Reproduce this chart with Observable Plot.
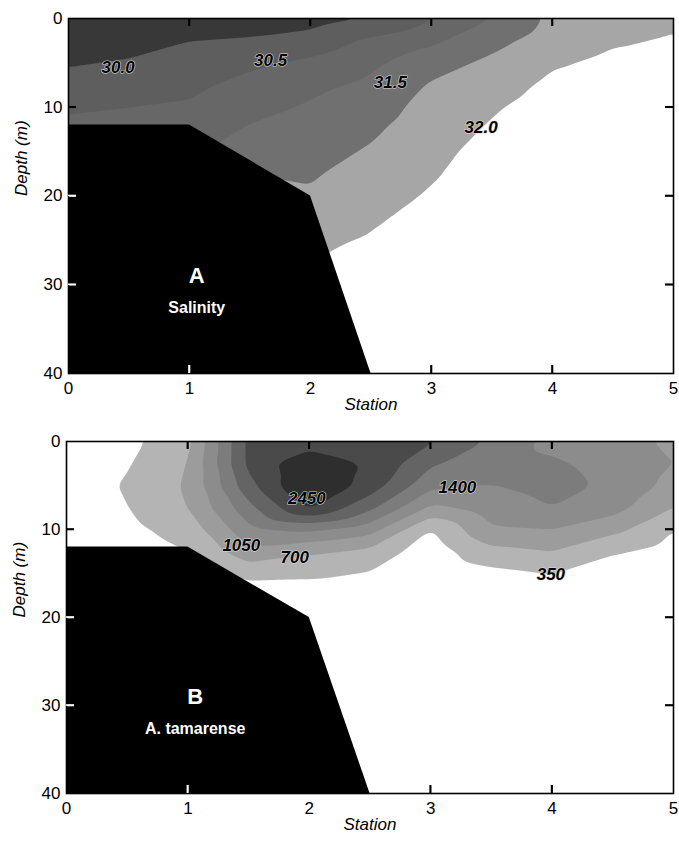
<!DOCTYPE html>
<html><head><meta charset="utf-8">
<script src="https://cdn.jsdelivr.net/npm/d3@7"></script>
<script src="https://cdn.jsdelivr.net/npm/@observablehq/plot@0.6"></script>
<style>
body{margin:0;background:#fff;font-family:"Liberation Sans",Arial,sans-serif}
#chart svg{display:block}
</style>
</head><body><div id="chart"></div>
<script>
// Grid of sample positions
const stations = [0, 0.5, 1, 1.5, 2, 2.5, 3, 3.5, 4, 4.5, 5];
const depths = [0, 2.5, 5, 7.5, 10, 12.5, 15, 17.5, 20, 25, 30, 40];

// Panel A: salinity (rows = depths, columns = stations)
const salinity = [
  [29.6, 29.6, 29.7, 29.75, 29.8, 29.97, 30.45, 31.0, 31.6, 31.75, 31.9],
  [29.75, 29.8, 30.0, 30.05, 30.2, 30.6, 30.9, 31.35, 31.75, 31.95, 32.05],
  [29.95, 30.05, 30.2, 30.4, 30.6, 30.9, 31.3, 31.6, 31.95, 32.1, 32.15],
  [30.2, 30.3, 30.4, 30.65, 30.9, 31.1, 31.55, 31.8, 32.1, 32.2, 32.25],
  [30.45, 30.5, 30.55, 30.85, 31.05, 31.25, 31.7, 31.95, 32.2, 32.3, 32.3],
  [30.6, 30.65, 30.75, 31.05, 31.2, 31.42, 31.8, 32.05, 32.3, 32.35, 32.4],
  [30.7, 30.75, 30.9, 31.3, 31.33, 31.55, 31.88, 32.15, 32.35, 32.4, 32.45],
  [30.8, 30.85, 31.0, 31.5, 31.45, 31.7, 31.95, 32.25, 32.4, 32.45, 32.5],
  [30.9, 30.95, 31.1, 31.6, 31.55, 31.8, 32.05, 32.3, 32.45, 32.5, 32.55],
  [31.0, 31.05, 31.2, 31.7, 31.9, 32.05, 32.25, 32.4, 32.5, 32.55, 32.6],
  [31.1, 31.15, 31.3, 31.8, 32.1, 32.3, 32.4, 32.5, 32.6, 32.65, 32.7],
  [31.2, 31.25, 31.4, 31.9, 32.2, 32.6, 32.7, 32.7, 32.8, 32.8, 32.85]
];
const salinityLevels = [29, 30, 30.5, 31, 31.5, 32];
const salinityGrays = ["#383838", "#5e5e5e", "#676767", "#707070", "#a6a6a6", "#ffffff"];
const salinityLabelText = ["30.0", "30.5", "31.5", "32.0"];
const salinityLabelStation = [0.41, 1.67, 2.66, 3.41];
const salinityLabelDepth = [5.5, 4.7, 7.2, 12.3];

// Panel B: A. tamarense cells (rows = depths, columns = stations)
const cells = [
  [100, 250, 600, 2200, 2200, 2300, 2150, 1700, 1300, 1150, 1000],
  [150, 320, 700, 2200, 2800, 2400, 1800, 1550, 1450, 1300, 1050],
  [200, 380, 750, 2000, 2900, 2300, 1500, 1400, 1500, 1350, 950],
  [180, 340, 700, 1650, 2500, 1850, 1000, 1250, 1400, 1200, 700],
  [150, 250, 500, 1300, 1450, 1200, 330, 1000, 1050, 800, 350],
  [100, 150, 350, 950, 750, 600, 150, 600, 700, 380, 200],
  [60, 80, 200, 450, 420, 320, 80, 250, 350, 180, 100],
  [40, 50, 100, 150, 150, 120, 50, 100, 150, 80, 50],
  [30, 30, 50, 80, 60, 50, 30, 50, 60, 40, 30],
  [20, 20, 30, 40, 30, 30, 20, 30, 30, 20, 20],
  [10, 10, 20, 20, 20, 20, 10, 20, 20, 10, 10],
  [0, 0, 0, 0, 0, 0, 0, 0, 0, 0, 0]
];
const cellLevels = [350, 700, 1050, 1400, 1750, 2100, 2450];
const cellGrays = ["#b4b4b4", "#9c9c9c", "#8c8c8c", "#7c7c7c", "#646464", "#4a4a4a", "#2e2e2e"];
const cellLabelText = ["1050", "700", "2450", "1400", "350"];
const cellLabelStation = [1.44, 1.88, 1.98, 3.22, 3.99];
const cellLabelDepth = [11.8, 13.2, 6.5, 5.2, 15.1];

// Sea floor
const bottomStation = [0, 1, 2, 2.5];
const bottomDepth = [12, 12, 20, 40];

// Axes
const stationTicks = [0, 1, 2, 3, 4, 5];
const depthTicks = [0, 10, 20, 30, 40];
const innerStationTicksDark = [3, 4];
const innerStationTicksLight = [1];
const topStationTicks = [1, 2, 3, 4];
const innerDepthTicksDark = [10];
const innerDepthTicksLight = [20, 30];
const rightDepthTicks = [10, 20, 30];

const TICK = 8;

function panel({values, levels, grays, labelText, labelStation, labelDepth, letter, name,
                height, marginTop, marginBottom, marginLeft, marginRight}) {
  const grid = [];
  depths.forEach((d, i) => stations.forEach((s, j) => grid.push({station: s, depth: d, value: values[i][j]})));
  const bottom = bottomStation.map((s, i) => ({station: s, depth: bottomDepth[i]}));
  const minStation = stationTicks[0], maxStation = stationTicks[stationTicks.length - 1];
  const minDepth = depthTicks[0], maxDepth = depthTicks[depthTicks.length - 1];
  const labels = labelText.map((t, i) => ({text: t, station: labelStation[i], depth: labelDepth[i]}));
  const svg = Plot.plot({
    width: 679, height, marginTop, marginBottom, marginLeft, marginRight,
    style: {fontFamily: "'Liberation Sans', Arial, sans-serif", fontSize: "17px", background: "white"},
    x: {domain: [minStation, maxStation], label: null},
    y: {domain: [minDepth, maxDepth], reverse: true, label: null},
    color: {type: "threshold", domain: levels.slice(1), range: grays},
    marks: [
      Plot.contour(grid, {x: "station", y: "depth", fill: "value", interpolate: "barycentric",
                          thresholds: levels, stroke: "none", pixelSize: 1, blur: 4}),
      Plot.areaY(bottom, {x: "station", y1: "depth", y2: () => maxDepth, fill: "black"}),
      Plot.axisX({ticks: stationTicks, tickSize: 0, tickPadding: 8, tickFormat: d3.format("d"), label: null, fontSize: 17}),
      Plot.axisY({ticks: depthTicks, tickSize: 0, tickPadding: 6, tickFormat: d3.format("d"), label: null, fontSize: 17}),
      Plot.ruleX(innerStationTicksDark, {x: d => d, y1: () => maxDepth, y2: () => maxDepth, insetTop: -TICK, stroke: "#000", strokeWidth: 1.6}),
      Plot.ruleX(innerStationTicksLight, {x: d => d, y1: () => maxDepth, y2: () => maxDepth, insetTop: -TICK, stroke: "#fff", strokeWidth: 1.6}),
      Plot.ruleX(topStationTicks, {x: d => d, y1: () => minDepth, y2: () => minDepth, insetBottom: -TICK, stroke: "#000", strokeWidth: 1.6}),
      Plot.ruleY(innerDepthTicksDark, {y: d => d, x1: () => minStation, x2: () => minStation, insetRight: -TICK, stroke: "#000", strokeWidth: 1.6}),
      Plot.ruleY(innerDepthTicksLight, {y: d => d, x1: () => minStation, x2: () => minStation, insetRight: -TICK, stroke: "#fff", strokeWidth: 1.6}),
      Plot.ruleY(rightDepthTicks, {y: d => d, x1: () => maxStation, x2: () => maxStation, insetLeft: -TICK, stroke: "#000", strokeWidth: 1.6}),
      Plot.text(labels, {x: "station", y: "depth", text: "text", fontWeight: "bold", fontStyle: "italic",
                         fontSize: 17, fill: "black", stroke: "#dcdcdc", strokeWidth: 1.2}),
      Plot.text([letter], {x: bottomStation[1] + 0.06, y: 29, text: d => d, fill: "white", fontWeight: "bold", fontSize: 22}),
      Plot.text([name], {x: bottomStation[1] + 0.06, y: 32.6, text: d => d, fill: "white", fontWeight: "bold", fontSize: 16}),
      Plot.text(["Station"], {frameAnchor: "bottom", dy: 36, text: d => d, fontStyle: "italic", fontSize: 17}),
      Plot.text(["Depth (m)"], {frameAnchor: "left", dx: -47, rotate: -90, text: d => d, fontStyle: "italic", fontSize: 17}),
      Plot.frame({stroke: "black", strokeWidth: 1.6})
    ]
  });
  // Inward ticks also placed through the plot's own scales (fallback overlay)
  try {
    const xs = svg.scale("x"), ys = svg.scale("y");
    const X = v => xs.apply(v), Y = v => ys.apply(v);
    const g = d3.select(svg).append("g").attr("stroke-width", 1.6).attr("fill", "none");
    const add = (vals, stroke, f) => vals.forEach(v => {
      const [x1, y1, x2, y2] = f(v);
      g.append("line").attr("x1", x1).attr("y1", y1).attr("x2", x2).attr("y2", y2).attr("stroke", stroke);
    });
    add(innerStationTicksDark, "#000", v => [X(v), Y(maxDepth), X(v), Y(maxDepth) - TICK]);
    add(innerStationTicksLight, "#fff", v => [X(v), Y(maxDepth), X(v), Y(maxDepth) - TICK]);
    add(topStationTicks, "#000", v => [X(v), Y(minDepth), X(v), Y(minDepth) + TICK]);
    add(innerDepthTicksDark, "#000", v => [X(minStation), Y(v), X(minStation) + TICK, Y(v)]);
    add(innerDepthTicksLight, "#fff", v => [X(minStation), Y(v), X(minStation) + TICK, Y(v)]);
    add(rightDepthTicks, "#000", v => [X(maxStation), Y(v), X(maxStation) - TICK, Y(v)]);
  } catch (e) {}
  return svg;
}

const chart = document.getElementById("chart");
chart.append(panel({values: salinity, levels: salinityLevels, grays: salinityGrays,
  labelText: salinityLabelText, labelStation: salinityLabelStation, labelDepth: salinityLabelDepth,
  letter: "A", name: "Salinity", height: 420, marginTop: 18, marginBottom: 47, marginLeft: 68, marginRight: 6}));
chart.append(panel({values: cells, levels: cellLevels, grays: cellGrays,
  labelText: cellLabelText, labelStation: cellLabelStation, labelDepth: cellLabelDepth,
  letter: "B", name: "A. tamarense", height: 421, marginTop: 21, marginBottom: 48, marginLeft: 66, marginRight: 6}));
</script>
</body></html>
